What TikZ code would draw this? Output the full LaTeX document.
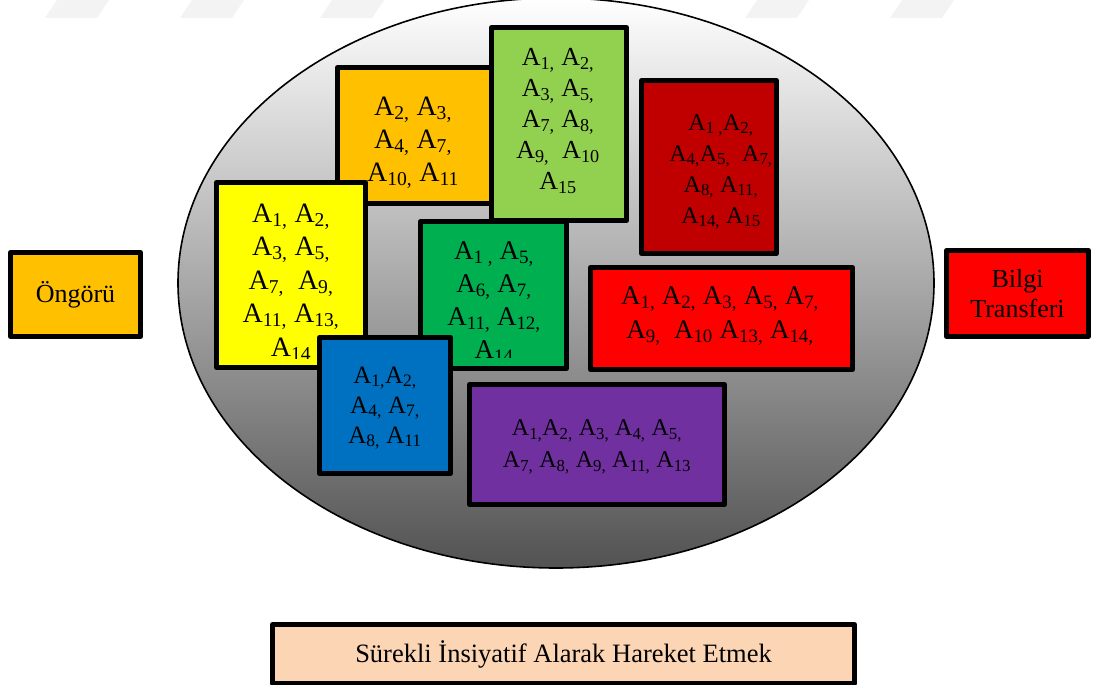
\documentclass[tikz,border=0pt]{standalone}
\usepackage{fontspec}
\setmainfont{Liberation Serif}
\usetikzlibrary{shapes.geometric}

\definecolor{cOrange}{HTML}{FFC000}
\definecolor{cYellow}{HTML}{FFFF00}
\definecolor{cLightGreen}{HTML}{92D050}
\definecolor{cGreen}{HTML}{00B050}
\definecolor{cDarkRed}{HTML}{C00000}
\definecolor{cRed}{HTML}{FF0000}
\definecolor{cBlue}{HTML}{0070C0}
\definecolor{cPurple}{HTML}{7030A0}
\definecolor{cPeach}{HTML}{FCD5B5}
\definecolor{cShadeBottom}{RGB}{82,82,82}
\definecolor{cStripe}{RGB}{243,243,243}

% A with a subscript index (the trailing comma is set small as well)
\newcommand\Ax[1]{A\textsubscript{#1}}

\tikzset{
  panel/.style={draw=black, line width=5pt, line join=round, rectangle, inner sep=0pt},
  ptext/.style={align=center, inner sep=0pt, text=black},
}

\begin{document}
\begin{tikzpicture}[x=1pt,y=-1pt]
\useasboundingbox (0,0) rectangle (1093,685);

% faint slanted stripes along the top edge
\foreach \sx in {45,180,320,745,890}
  \fill[cStripe] (\sx,18) -- (\sx+52,18) -- (\sx+64,0) -- (\sx+12,0) -- cycle;

% shaded oval
\node[ellipse, draw=black, line width=1.6pt, inner sep=0pt,
      minimum width=756pt, minimum height=570pt,
      top color=white, bottom color=cShadeBottom] (pool) at (556,283) {};

% orange
\node[panel, fill=cOrange, minimum width=154pt, minimum height=136pt] (orange) at (414.5,135.5) {};
\node[ptext, font=\fontsize{28}{33}\selectfont] (orangeT) at (413,143)
  {\Ax{2,} \Ax{3,}\\ \Ax{4,} \Ax{7,}\\ \Ax{10,} \Ax{11}};

% yellow (text cut at the inner margin)
\node[panel, fill=cYellow, minimum width=149pt, minimum height=185pt] (yellow) at (291,275) {};
\begin{scope}
  \clip (216,182) rectangle (366,358);
  \node[ptext, font=\fontsize{28}{33.5}\selectfont] (yellowT) at (291,282)
    {\Ax{1,} \Ax{2,}\\ \Ax{3,} \Ax{5,}\\ \Ax{7,}~ \Ax{9,}\\ \Ax{11,} \Ax{13,}\\ \Ax{14}};
\end{scope}

% light green
\node[panel, fill=cLightGreen, minimum width=135pt, minimum height=193pt] (lgreen) at (559,124) {};
\node[ptext, font=\fontsize{26}{31}\selectfont] (lgreenT) at (558,121)
  {\Ax{1,} \Ax{2,}\\ \Ax{3,} \Ax{5,}\\ \Ax{7,} \Ax{8,}\\ \Ax{9,}~ \Ax{10}\\ \Ax{15}};

% green (text cut at the inner margin)
\node[panel, fill=cGreen, minimum width=146pt, minimum height=147pt] (green) at (493.5,295) {};
\begin{scope}
  \clip (420,221) rectangle (567,357);
  \node[ptext, font=\fontsize{27}{33}\selectfont] (greenT) at (494,302)
    {\Ax{1 ,} \Ax{5,}\\ \Ax{6,} \Ax{7,}\\ \Ax{11,} \Ax{12,}\\ \Ax{14}};
\end{scope}

% dark red
\node[panel, fill=cDarkRed, minimum width=135pt, minimum height=173pt] (dred) at (709,167) {};
\node[ptext, font=\fontsize{24}{31}\selectfont] (dredT) at (721,172)
  {\Ax{1 ,}\Ax{2,}\\ \Ax{4,}\Ax{5,}~ \Ax{7,}\\ \Ax{8,} \Ax{11,}\\ \Ax{14,} \Ax{15}};

% red, wide
\node[panel, fill=cRed, minimum width=262pt, minimum height=102pt] (red) at (721.5,318.5) {};
\node[ptext, font=\fontsize{27}{34}\selectfont] (redT) at (720,316)
  {\Ax{1,} \Ax{2,} \Ax{3,} \Ax{5,} \Ax{7,}\\ \Ax{9,}~ \Ax{10} \Ax{13,} \Ax{14,}};

% purple
\node[panel, fill=cPurple, minimum width=255pt, minimum height=120pt] (purple) at (597,444.5) {};
\node[ptext, font=\fontsize{24}{32}\selectfont] (purpleT) at (597,447)
  {\Ax{1,}\Ax{2,} \Ax{3,} \Ax{4,} \Ax{5,}\\ \Ax{7,} \Ax{8,} \Ax{9,} \Ax{11,} \Ax{13}};

% blue
\node[panel, fill=cBlue, minimum width=131pt, minimum height=136pt] (blue) at (385,405.5) {};
\node[ptext, font=\fontsize{25}{30}\selectfont] (blueT) at (385,408)
  {\Ax{1,}\Ax{2,}\\ \Ax{4,} \Ax{7,}\\ \Ax{8,} \Ax{11}};

% side and bottom labels
\node[panel, fill=cOrange, minimum width=130pt, minimum height=84pt,
      font=\fontsize{26}{30}\selectfont] (ongoru) at (75.5,294.5) {Öngörü};
\node[panel, fill=cRed, minimum width=142pt, minimum height=86pt, align=center,
      font=\fontsize{26}{30}\selectfont] (bilgi) at (1017.5,293.5) {Bilgi\\Transferi};
\node[panel, fill=cPeach, minimum width=582pt, minimum height=59pt,
      font=\fontsize{26.5}{30}\selectfont] (action) at (563.5,654) {Sürekli İnsiyatif Alarak Hareket Etmek};
\end{tikzpicture}
\end{document}
